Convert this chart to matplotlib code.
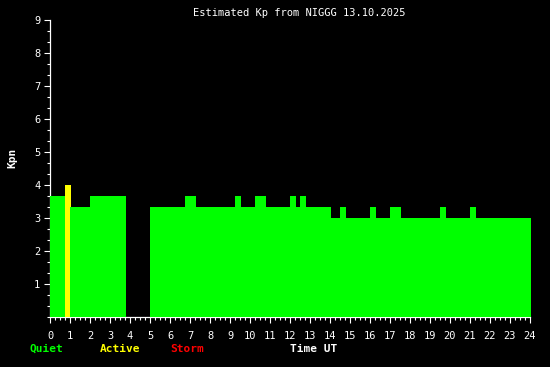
import matplotlib
matplotlib.use("Agg")
import matplotlib.pyplot as plt
import numpy as np
from matplotlib.ticker import MultipleLocator, FixedLocator

# 15-minute estimated Kp values (None = no data), starting at 00:00 UT
kp_values = [
    3.667, 3.667, 3.667, 4.0,    3.333, 3.333, 3.333, 3.333,   # 00-02
    3.667, 3.667, 3.667, 3.667,  3.667, 3.667, 3.667, None,    # 02-04
    None,  None,  None,  None,   3.333, 3.333, 3.333, 3.333,   # 04-06
    3.333, 3.333, 3.333, 3.667,  3.667, 3.333, 3.333, 3.333,   # 06-08
    3.333, 3.333, 3.333, 3.333,  3.333, 3.667, 3.333, 3.333,   # 08-10
    3.333, 3.667, 3.667, 3.333,  3.333, 3.333, 3.333, 3.333,   # 10-12
    3.667, 3.333, 3.667, 3.333,  3.333, 3.333, 3.333, 3.333,   # 12-14
    3.0,   3.0,   3.333, 3.0,    3.0,   3.0,   3.0,   3.0,     # 14-16
    3.333, 3.0,   3.0,   3.0,    3.333, 3.333, 3.0,   3.0,     # 16-18
    3.0,   3.0,   3.0,   3.0,    3.0,   3.0,   3.333, 3.0,     # 18-20
    3.0,   3.0,   3.0,   3.0,    3.333, 3.0,   3.0,   3.0,     # 20-22
    3.0,   3.0,   3.0,   3.0,    3.0,   3.0,   3.0,   3.0,     # 22-24
]
slot_hours = 0.25
x_ticks = list(range(0, 25))
y_ticks = list(range(1, 10))
title = "Estimated Kp from NIGGG 13.10.2025"

QUIET, ACTIVE, STORM = "#00ff00", "#ffff00", "#ff0000"

def kp_color(v):
    if v >= 5:
        return STORM
    if v >= 4:
        return ACTIVE
    return QUIET

mono = "DejaVu Sans Mono"
fig = plt.figure(figsize=(5.5, 3.67), dpi=100, facecolor="black")
ax = fig.add_axes([50/550, (367-317)/367, 480/550, (317-20)/367])
ax.set_facecolor("black")

for i, v in enumerate(kp_values):
    if v is None:
        continue
    ax.bar(i * slot_hours, v, width=0.3, align="edge", color=kp_color(v),
           linewidth=0, zorder=3, clip_on=False, antialiased=False)

ax.set_xlim(0, 24)
ax.set_ylim(0, 9)
for s in ["top", "right"]:
    ax.spines[s].set_visible(False)
for s in ["left", "bottom"]:
    ax.spines[s].set_color("white")
    ax.spines[s].set_linewidth(0.9)

ax.xaxis.set_major_locator(FixedLocator(x_ticks))
ax.xaxis.set_minor_locator(MultipleLocator(0.25))
ax.yaxis.set_major_locator(FixedLocator(y_ticks))
ax.yaxis.set_minor_locator(MultipleLocator(1/3))
ax.tick_params(which="both", colors="white", width=0.8, direction="out")
ax.tick_params(which="major", length=4)
ax.tick_params(which="minor", length=2.2)
ax.tick_params(axis="x", which="major", pad=6, labelsize=7.5)
ax.tick_params(axis="y", which="major", pad=3, labelsize=7.5)
for lab in ax.get_xticklabels() + ax.get_yticklabels():
    lab.set_family(mono)
    lab.set_color("white")

fig.text(299.5/550, 1 - 12.5/367, title, color="white", family=mono,
         fontsize=7.5, ha="center", va="center")
fig.text(12.5/550, 1 - 158/367, "Kpn", color="white", family=mono,
         fontsize=8, fontweight="bold", rotation=90, ha="center", va="center")

ybot = 1 - 349/367
fig.text(46.5/550, ybot, "Quiet", color=QUIET, family=mono, fontsize=8,
         fontweight="bold", ha="center", va="center")
fig.text(120/550, ybot, "Active", color=ACTIVE, family=mono, fontsize=8,
         fontweight="bold", ha="center", va="center")
fig.text(187/550, ybot, "Storm", color=STORM, family=mono, fontsize=8,
         fontweight="bold", ha="center", va="center")
fig.text(313.5/550, ybot, "Time UT", color="white", family=mono, fontsize=8,
         fontweight="bold", ha="center", va="center")

fig.savefig("out.png", dpi=100, facecolor="black")
